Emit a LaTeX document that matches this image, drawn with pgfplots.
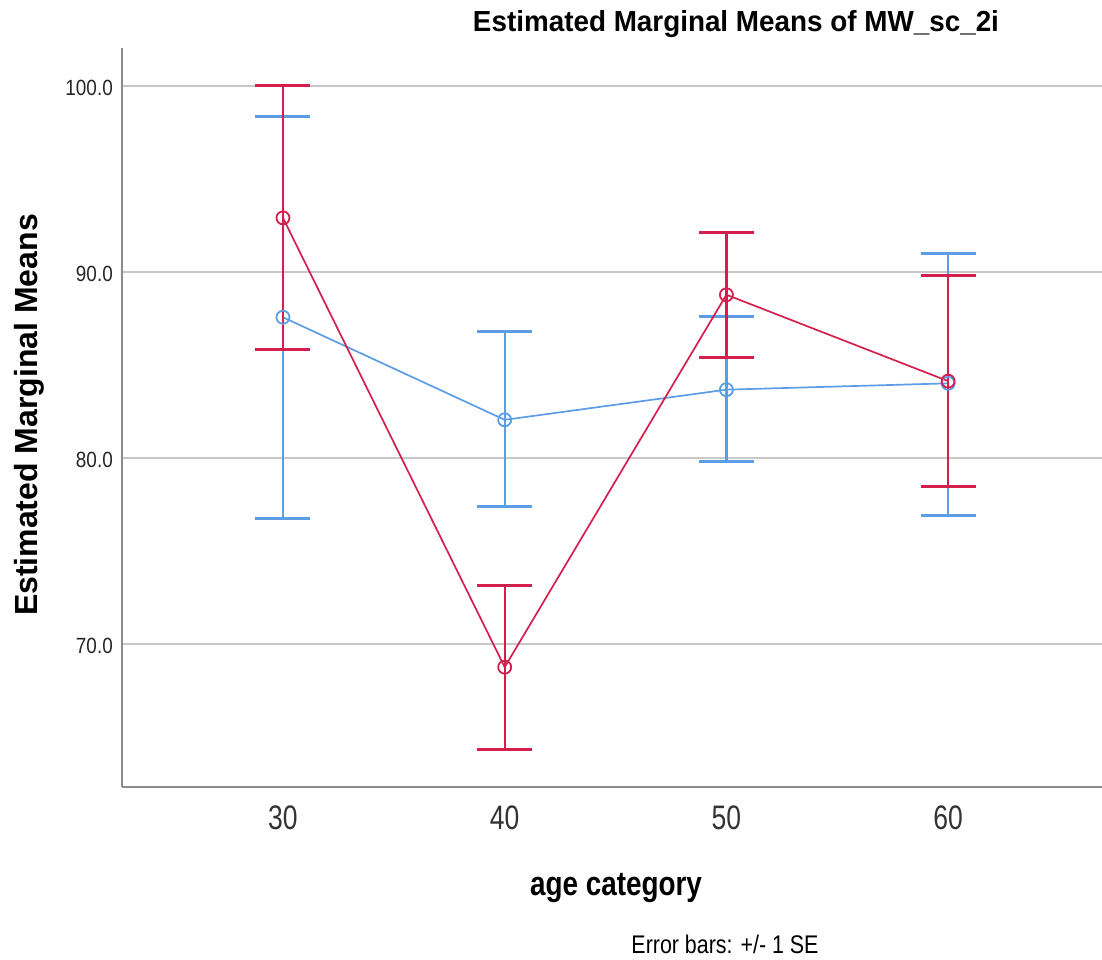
\documentclass[border=0pt]{standalone}
\usepackage{fontspec}
\setmainfont{Liberation Sans}
\newfontfamily\ttlfont[FakeStretch=0.96]{Liberation Sans}
\newfontfamily\lblfont[FakeStretch=0.82]{Liberation Sans}
\newfontfamily\xtfont[FakeStretch=0.78]{Liberation Sans}
\newfontfamily\ytfont[FakeStretch=0.86]{Liberation Sans}
\newfontfamily\notefont[FakeStretch=0.84]{Liberation Sans}
\usepackage{pgfplots}
\pgfplotsset{compat=1.18}
\definecolor{emmred}{HTML}{D41F4E}
\definecolor{emmblue}{HTML}{5C9DE6}
\definecolor{axisgray}{HTML}{8C8C8C}
\definecolor{gridgray}{HTML}{C8C8C8}

% age, mean, +SE, -SE
\pgfplotstableread{
x  y     ep    em
30 87.55 10.80 10.83
40 82.04 4.73  4.67
50 83.66 3.94  3.86
60 84.00 7.00  7.12
}\bluedata
\pgfplotstableread{
x  y     ep    em
30 92.89 7.11  7.09
40 68.75 4.40  4.40
50 88.76 3.32  3.36
60 84.12 5.66  5.66
}\reddata

\begin{document}
\begin{tikzpicture}
\path[use as bounding box] (-122bp,-173bp) rectangle (980bp,787bp);
\begin{axis}[
  at={(0,0)}, anchor=south west,
  scale only axis, width=980bp, height=739bp,
  xmin=22.74, xmax=66.94, ymin=62.31, ymax=102.02,
  axis x line*=bottom, axis y line*=left,
  axis line style={-, draw=axisgray, line width=1.8bp},
  xtick={30,40,50,60},
  ytick={70,80,90,100}, yticklabels={70.0,80.0,90.0,100.0},
  major tick length=0pt,
  /pgf/number format/assume math mode=true,
  xticklabel style={font=\xtfont\fontsize{34bp}{40bp}\selectfont, text=black!80, anchor=base, yshift=-42bp},
  yticklabel style={font=\ytfont\fontsize{22bp}{26bp}\selectfont, text=black!85, anchor=east, inner sep=0pt, xshift=-9bp, yshift=-2bp},
  ymajorgrids, grid style={draw=gridgray, line width=2bp},
  clip=false,
]
\addplot[emmblue, line width=1.7bp, mark=o, mark size=6.5bp, mark options={line width=1.8bp},
  error bars/.cd, y dir=both, y explicit,
  error bar style={line width=2.2bp, emmblue},
  error mark options={rotate=90, mark size=27.5bp, line width=3bp, emmblue}]
  table[x=x, y=y, y error plus=ep, y error minus=em] {\bluedata};
\addplot[emmred, line width=1.7bp, mark=o, mark size=6.5bp, mark options={line width=1.8bp},
  error bars/.cd, y dir=both, y explicit,
  error bar style={line width=2.2bp, emmred},
  error mark options={rotate=90, mark size=27.5bp, line width=3bp, emmred}]
  table[x=x, y=y, y error plus=ep, y error minus=em] {\reddata};
\end{axis}
\node[anchor=base, font=\ttlfont\bfseries\fontsize{29bp}{34bp}\selectfont] at (614bp,755bp) {Estimated Marginal Means of MW\_sc\_2i};
\node[anchor=base, rotate=90, font=\bfseries\fontsize{32bp}{38bp}\selectfont] at (-84.5bp,372bp) {Estimated Marginal Means};
\node[anchor=base, font=\lblfont\bfseries\fontsize{34bp}{40bp}\selectfont] at (494bp,-108bp) {age category};
\node[anchor=base, font=\notefont\fontsize{25.5bp}{30bp}\selectfont] at (603bp,-166bp) {Error bars: +/- 1 SE};
\end{tikzpicture}
\end{document}
